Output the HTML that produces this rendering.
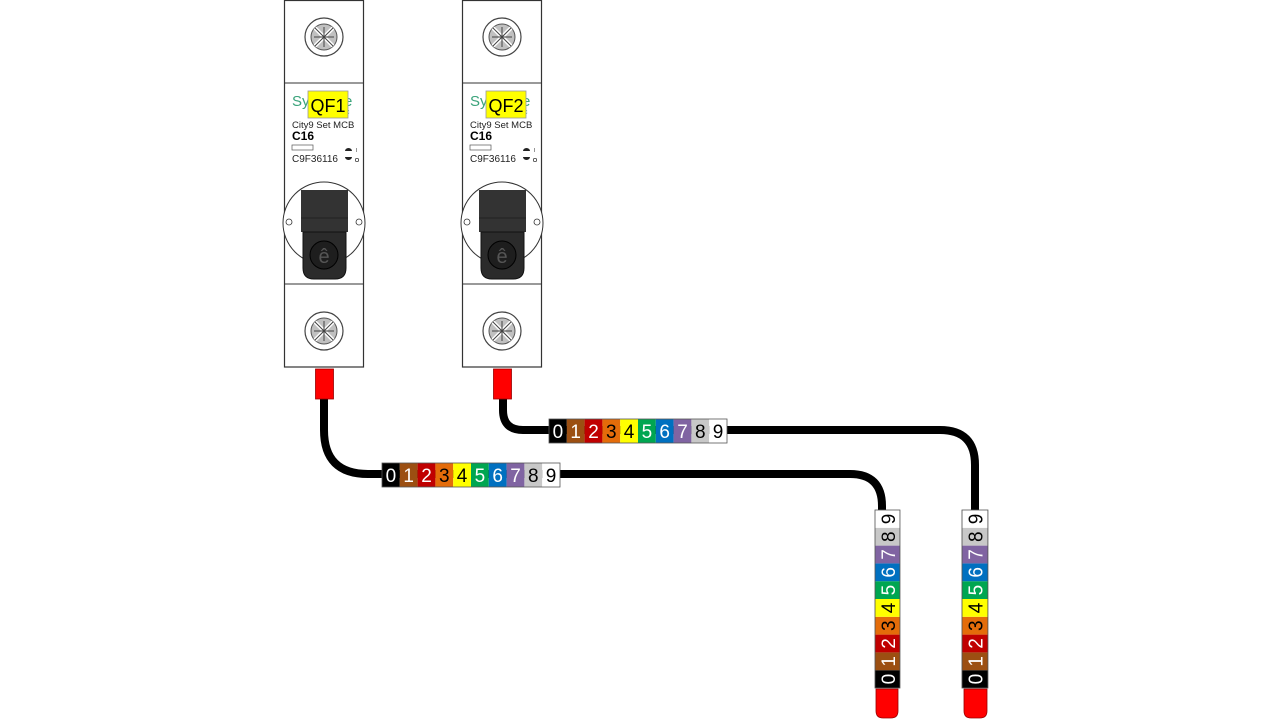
<!DOCTYPE html>
<html><head><meta charset="utf-8"><style>
html,body{margin:0;padding:0;background:#fff;width:1280px;height:720px;overflow:hidden}
svg{display:block;font-family:"Liberation Sans",Arial,sans-serif}
</style></head><body>
<svg width="1280" height="720" viewBox="0 0 1280 720">
<defs>
<g id="screw">
<circle r="19" fill="#fff" stroke="#444" stroke-width="1.2"/>
<circle r="13" fill="#c0c0c0" stroke="#555" stroke-width="1"/>
<g stroke="#fff" stroke-width="4"><line x1="-9" y1="-9" x2="9" y2="9"/><line x1="-9" y1="9" x2="9" y2="-9"/></g>
<g stroke="#444" stroke-width="1"><line x1="-9" y1="-9" x2="9" y2="9"/><line x1="-9" y1="9" x2="9" y2="-9"/><line x1="0" y1="-10" x2="0" y2="10"/><line x1="-10" y1="0" x2="10" y2="0"/></g>
</g>
<g id="brk">
<rect x="0.5" y="0.5" width="79" height="366.5" fill="#fff" stroke="#333" stroke-width="1.2"/>
<line x1="0" y1="83" x2="80" y2="83" stroke="#333"/>
<line x1="0" y1="284" x2="80" y2="284" stroke="#333"/>
<use href="#screw" x="40" y="37"/>
<use href="#screw" x="40" y="331"/>
<text x="8" y="106" font-size="15" fill="#3aa37a">Sy</text>
<text x="60" y="106" font-size="15" fill="#3aa37a">e</text>
<text x="62" y="114" font-size="7" fill="#3aa37a">c</text>
<text x="8" y="128" font-size="9.5" fill="#222">City9 Set MCB</text>
<text x="8" y="140" font-size="12" font-weight="bold" fill="#000">C16</text>
<rect x="8" y="145" width="21" height="5" fill="#fff" stroke="#555" stroke-width="0.7"/>
<text x="8" y="162" font-size="10" fill="#222">C9F36116</text>
<path d="M61 151 a3.5 3 0 0 1 7 0z" fill="#222"/>
<path d="M61 157 h7 a3.5 3 0 0 1 -7 0z" fill="#222"/>
<text x="72" y="152" font-size="5" fill="#222">I</text>
<circle cx="73" cy="160" r="1.7" fill="none" stroke="#222" stroke-width="0.7"/>
<circle cx="40" cy="223" r="41" fill="#fff" stroke="#333" stroke-width="1"/>
<circle cx="5" cy="222" r="3" fill="#fff" stroke="#333" stroke-width="0.8"/>
<circle cx="75" cy="222" r="3" fill="#fff" stroke="#333" stroke-width="0.8"/>
<rect x="17" y="190" width="47" height="42" fill="#333"/>
<line x1="17" y1="218" x2="64" y2="218" stroke="#222"/>
<path d="M19 232 H62 V268 Q62 279 51 279 H30 Q19 279 19 268Z" fill="#2b2b2b" stroke="#111"/>
<circle cx="40" cy="255" r="14" fill="#1e1e1e" stroke="#000"/>
<text x="40" y="263" font-size="20" text-anchor="middle" fill="#555">ê</text>
<rect x="31.5" y="369" width="18" height="30" fill="#f00" stroke="#900" stroke-width="0.8"/>
</g>
<g id="hstrip">
<rect x="0" y="0" width="17.8" height="24" fill="#000"/>
<rect x="17.8" y="0" width="17.8" height="24" fill="#9c4f12"/>
<rect x="35.6" y="0" width="17.8" height="24" fill="#c00000"/>
<rect x="53.4" y="0" width="17.8" height="24" fill="#e46c0a"/>
<rect x="71.2" y="0" width="17.8" height="24" fill="#ffff00"/>
<rect x="89" y="0" width="17.8" height="24" fill="#00a651"/>
<rect x="106.8" y="0" width="17.8" height="24" fill="#0070c0"/>
<rect x="124.6" y="0" width="17.8" height="24" fill="#8064a2"/>
<rect x="142.4" y="0" width="17.8" height="24" fill="#c8c8c8"/>
<rect x="160.2" y="0" width="17.8" height="24" fill="#fff"/>
<rect x="0" y="0" width="178" height="24" fill="none" stroke="#555" stroke-width="0.8"/>
<g font-size="19" text-anchor="middle">
<text x="8.9" y="19" fill="#fff">0</text><text x="26.7" y="19" fill="#fff">1</text>
<text x="44.5" y="19" fill="#fff">2</text><text x="62.3" y="19" fill="#000">3</text>
<text x="80.1" y="19" fill="#000">4</text><text x="97.9" y="19" fill="#fff">5</text>
<text x="115.7" y="19" fill="#fff">6</text><text x="133.5" y="19" fill="#fff">7</text>
<text x="151.3" y="19" fill="#000">8</text><text x="169.1" y="19" fill="#000">9</text>
</g>
</g>
</defs>

<g fill="none" stroke="#000" stroke-width="8">
<path d="M324 396 V430 Q324 474 368 474 H850 Q882 474 882 506 V515"/>
<path d="M503 396 V410 Q503 430 523 430 H940 Q975 430 975 465 V515"/>
</g>

<use href="#brk" x="284" y="0"/>
<use href="#brk" x="462" y="0"/>
<rect x="308" y="91" width="40" height="27" fill="#ffff00" stroke="#999" stroke-width="0.8"/>
<text x="328" y="112" font-size="18" text-anchor="middle" fill="#000">QF1</text>
<rect x="486" y="91" width="40" height="27" fill="#ffff00" stroke="#999" stroke-width="0.8"/>
<text x="506" y="112" font-size="18" text-anchor="middle" fill="#000">QF2</text>

<use href="#hstrip" x="382" y="463"/>
<use href="#hstrip" x="549" y="419"/>

<use href="#hstrip" transform="translate(875,688) rotate(-90) scale(1,1.04)"/>
<use href="#hstrip" transform="translate(962,688) rotate(-90) scale(1,1.08)"/>

<path d="M876 689 H898 V711 Q898 718 891 718 H883 Q876 718 876 711Z" fill="#f00" stroke="#900" stroke-width="0.8"/>
<path d="M964 689 H987 V711 Q987 718 980 718 H971 Q964 718 964 711Z" fill="#f00" stroke="#900" stroke-width="0.8"/>
</svg>
</body></html>
